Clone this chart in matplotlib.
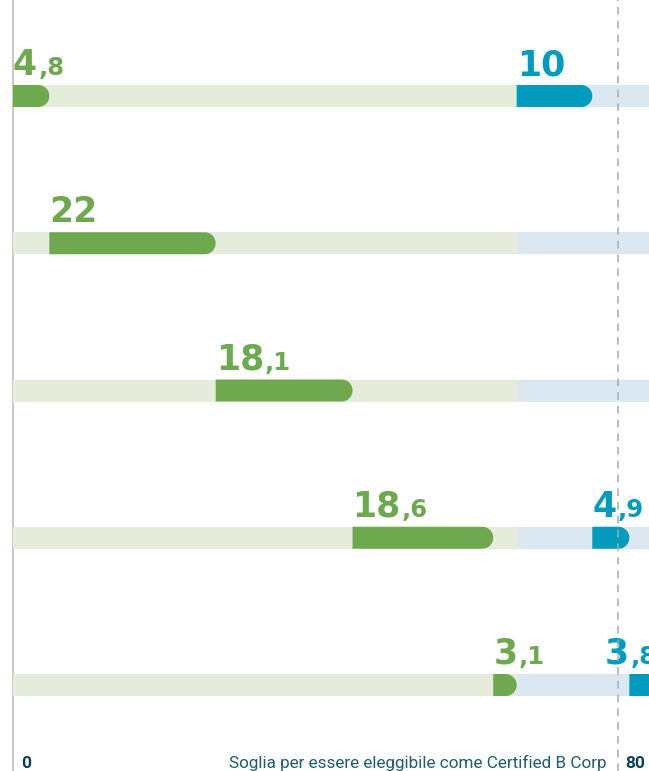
import matplotlib
matplotlib.use("Agg")
import matplotlib.pyplot as plt
from matplotlib.patches import Polygon
import numpy as np

# ---- data ----
green_values = [4.8, 22, 18.1, 18.6, 3.1]
blue_values = [10, 0, 0, 4.9, 3.8]
threshold = 80
zero_label = "0"
threshold_label = "80"
threshold_caption = "Soglia per essere eleggibile come Certified B Corp"

# ---- styles ----
GREEN = "#6ea84f"
GREEN_BG = "#e5ecdc"
BLUE = "#009bbd"
BLUE_BG = "#dce8f1"
DARK = "#0d4050"
blue_label_shift = [0, 0, 0, 0, -3.2]

W, H = 649, 771
fig = plt.figure(figsize=(W / 100, H / 100), dpi=100)
ax = fig.add_axes([0, 0, 1, 1])
ppx = 7.5625  # pixels per data unit
x0px = 13
ax.set_xlim(-x0px / ppx, (W - x0px) / ppx)
row_px0, row_step = 96, 147.25
ax.set_ylim((H - row_px0) / row_step, -row_px0 / row_step)
ax.axis("off")

bar_h = 22 / row_step
rx = 11 / ppx
xmax = (W - x0px) / ppx + 5
renderer = fig.canvas.get_renderer()


def rounded_bar(start, width, y, color, z=3):
    end = start + width
    r = min(rx, width)
    th = np.linspace(-np.pi / 2, np.pi / 2, 40)
    arc = np.column_stack([end - r + r * np.cos(th), y + bar_h / 2 * np.sin(th)])
    verts = np.vstack([[start, y - bar_h / 2], arc, [start, y + bar_h / 2]])
    ax.add_patch(Polygon(verts, closed=True, facecolor=color, edgecolor="none", zorder=z))


def value_label(x, y, v, color):
    s = f"{v:.1f}".replace(".", ",") if v != int(v) else f"{int(v)}"
    if "," in s:
        ip, dp = s.split(",")
        dp = "," + dp
    else:
        ip, dp = s, ""
    ty = y - bar_h / 2 - 10 / row_step
    t = ax.text(x, ty, ip, color=color, fontsize=25, fontweight="heavy",
                family="DejaVu Sans", ha="left", va="baseline", zorder=5)
    if dp:
        bb = t.get_window_extent(renderer=renderer)
        x_end = ax.transData.inverted().transform((bb.x1, 0))[0]
        ax.text(x_end + 0.15, ty, dp, color=color, fontsize=17.5, fontweight="heavy",
                family="DejaVu Sans", ha="left", va="baseline", zorder=5)


green_total = sum(green_values)
ypos = np.arange(len(green_values))
# backgrounds
ax.barh(ypos, [green_total] * len(ypos), left=0, height=bar_h, color=GREEN_BG, zorder=1)
ax.barh(ypos, [xmax - green_total] * len(ypos), left=green_total, height=bar_h, color=BLUE_BG, zorder=1)

cum = 0
bcum = green_total
for i, (g, b) in enumerate(zip(green_values, blue_values)):
    rounded_bar(cum, g, i, GREEN)
    value_label(cum, i, g, GREEN)
    cum += g
    if b > 0:
        rounded_bar(bcum, b, i, BLUE)
        value_label(bcum + blue_label_shift[i], i, b, BLUE)
        bcum += b

ax.axvline(0, color="#c4c4c4", lw=1.3, zorder=0)
ax.axvline(threshold, color="#aaaaaa", lw=1.1, ls=(0, (5, 4)), zorder=6)

ty = (763 - row_px0) / row_step
ax.text(1.1, ty, zero_label, color=DARK, fontsize=12.5, fontweight="bold",
        family="Roboto", ha="left", va="center")
ax.text(threshold - 1.5, ty, threshold_caption, color="#1f5d6c", fontsize=12.3,
        family="Roboto", ha="right", va="center")
ax.text(threshold + 0.9, ty, threshold_label, color=DARK, fontsize=12.5, fontweight="bold",
        family="Roboto", ha="left", va="center")

fig.savefig("out.png", dpi=100, facecolor="white")
